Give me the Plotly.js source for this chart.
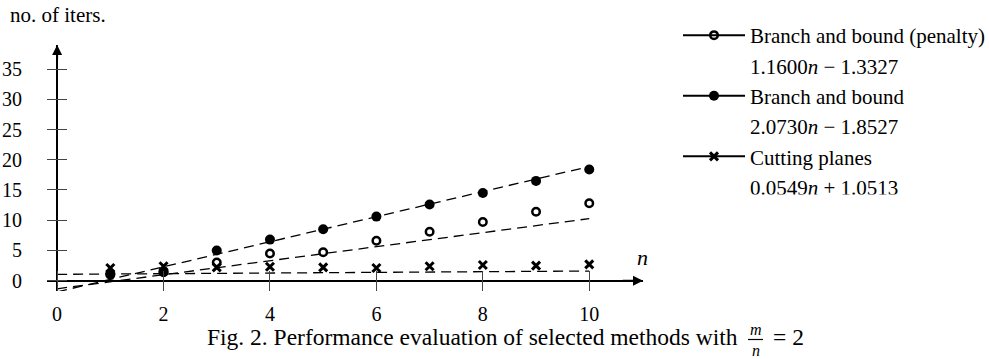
<!DOCTYPE html>
<html><head><meta charset="utf-8">
<script src="https://cdn.plot.ly/plotly-3.0.1.min.js"></script>
<style>html,body{margin:0;padding:0;background:#fff;} #chart{width:989px;height:359px;}</style>
</head><body><div id="chart"></div>
<script>
// ---- data ----
const nValues = [1, 2, 3, 4, 5, 6, 7, 8, 9, 10];
const penaltyIters = [1.0, 1.4, 3.0, 4.5, 4.7, 6.6, 8.1, 9.7, 11.4, 12.8];
const bnbIters = [1.2, 1.5, 5.0, 6.8, 8.5, 10.6, 12.6, 14.5, 16.5, 18.4];
const cuttingIters = [2.1, 2.4, 2.2, 2.3, 2.2, 2.1, 2.4, 2.6, 2.5, 2.7];
const seriesNames = ["Branch and bound (penalty)", "Branch and bound", "Cutting planes"];
const fitLabels = ["1.1600<i>n</i> − 1.3327", "2.0730<i>n</i> − 1.8527", "0.0549<i>n</i> + 1.0513"];
const fitSlopes = [1.1600, 2.0730, 0.0549];
const fitIntercepts = [-1.3327, -1.8527, 1.0513];
const fitSpan = [0, 10];
const xTickVals = [0, 2, 4, 6, 8, 10];
const yTickVals = [0, 5, 10, 15, 20, 25, 30, 35];

const FONT = "Liberation Serif";
const L = 47, R = 643, T = 45, B = 291;
const px = x => (x - L) / (R - L);
const py = y => (B - y) / (B - T);

// points separated by nulls: no connecting segments, but legend shows line+marker
function sep(arr) { const out = []; arr.forEach((v, i) => { if (i) out.push(null); out.push(v); }); return out; }

const seriesData = [penaltyIters, bnbIters, cuttingIters];
const markers = [
  {symbol: "circle-open", size: 7.5, color: "#000", line: {width: 2.5, color: "#000"}},
  {symbol: "circle", size: 10, color: "#000"},
  {symbol: "x-thin-open", size: 8, color: "#000", line: {width: 3, color: "#000"}}
];

const traces = [];
for (let i = 0; i < 3; i++) {
  traces.push({
    type: "scatter", mode: "lines", x: fitSpan,
    y: fitSpan.map(v => fitSlopes[i] * v + fitIntercepts[i]),
    line: {color: "#000", width: 1.3, dash: "10px,6px"},
    showlegend: false, hoverinfo: "skip"
  });
}
for (let i = 0; i < 3; i++) {
  traces.push({
    type: "scatter", mode: "lines+markers", name: seriesNames[i],
    x: sep(nValues), y: sep(seriesData[i]), connectgaps: false,
    line: {color: "#000", width: 2}, marker: markers[i]
  });
  traces.push({
    type: "scatter", mode: "lines", name: fitLabels[i],
    x: [null], y: [null], line: {color: "rgba(0,0,0,0)", width: 0}, hoverinfo: "skip"
  });
}

const tf = {family: FONT, size: 20, color: "#000"};
const layout = {
  width: 989, height: 359,
  margin: {l: L, r: 989 - R, t: T, b: 359 - B, pad: 0},
  paper_bgcolor: "#fff", plot_bgcolor: "#fff",
  font: {family: FONT, size: 20, color: "#000"},
  showlegend: true,
  legend: {
    xref: "container", yref: "container", x: 678 / 989, y: 1 - 15 / 359,
    xanchor: "left", yanchor: "top", bgcolor: "rgba(0,0,0,0)", itemwidth: 62,
    font: {family: FONT, size: 21, color: "#000"}, traceorder: "normal",
    itemclick: false, itemdoubleclick: false
  },
  xaxis: {
    range: [-0.19, 11.01], tickvals: xTickVals, ticks: "inside", ticklen: 20, tickwidth: 1,
    tickcolor: "#444", showline: false, showgrid: false, zeroline: true,
    zerolinecolor: "#000", zerolinewidth: 2, tickfont: tf,
    ticklabelstandoff: 9, fixedrange: true
  },
  yaxis: {
    range: [-1.70, 38.97], tickvals: yTickVals, ticks: "inside", ticklen: 20, tickwidth: 1,
    tickcolor: "#444", showline: false, showgrid: false, zeroline: true,
    zerolinecolor: "#000", zerolinewidth: 2, tickfont: tf,
    ticklabelstandoff: 24, fixedrange: true
  },
  shapes: [
    {type: "line", xref: "paper", yref: "paper", x0: px(748), x1: px(763), y0: py(339.5), y1: py(339.5),
     line: {color: "#000", width: 1.2}}
  ],
  annotations: [
    {x: 0, y: 38.97, ax: 0, ay: 36.5, xref: "x", yref: "y", axref: "x", ayref: "y",
     showarrow: true, arrowhead: 2, arrowsize: 1, arrowwidth: 2, arrowcolor: "#000", text: ""},
    {x: 11.01, y: 0, ax: 10.6, ay: 0, xref: "x", yref: "y", axref: "x", ayref: "y",
     showarrow: true, arrowhead: 2, arrowsize: 1, arrowwidth: 2, arrowcolor: "#000", text: ""},
    {x: 11.0, y: 3.9, xref: "x", yref: "y", text: "<i>n</i>", showarrow: false,
     font: {family: FONT, size: 22, color: "#000"}},
    {x: px(8), y: py(15), xref: "paper", yref: "paper", xanchor: "left", yanchor: "middle",
     text: "no. of iters.", showarrow: false, font: {family: FONT, size: 21, color: "#000"}},
    {x: px(740), y: py(337), xref: "paper", yref: "paper", xanchor: "right", yanchor: "middle",
     text: "Fig. 2. Performance evaluation of selected methods with", showarrow: false,
     font: {family: FONT, size: 23.5, color: "#000"}},
    {x: px(755.5), y: py(329), xref: "paper", yref: "paper", xanchor: "center", yanchor: "middle",
     text: "<i>m</i>", showarrow: false, font: {family: FONT, size: 16, color: "#000"}},
    {x: px(755.5), y: py(350), xref: "paper", yref: "paper", xanchor: "center", yanchor: "middle",
     text: "<i>n</i>", showarrow: false, font: {family: FONT, size: 16, color: "#000"}},
    {x: px(771), y: py(337), xref: "paper", yref: "paper", xanchor: "left", yanchor: "middle",
     text: "= 2", showarrow: false, font: {family: FONT, size: 23.5, color: "#000"}}
  ]
};

Plotly.newPlot("chart", traces, layout, {staticPlot: true, displayModeBar: false});
</script>
</body></html>
